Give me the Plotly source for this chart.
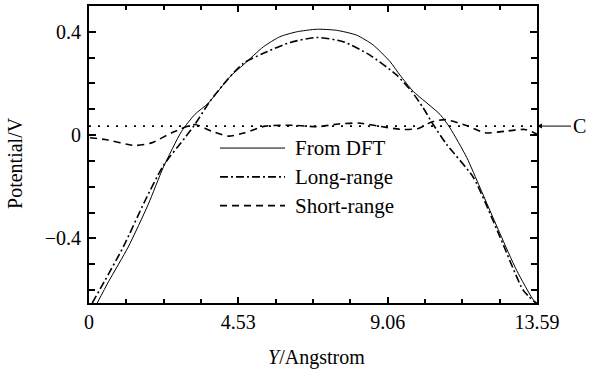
import plotly.graph_objects as go

# ---- data ----
dft_x = [0.25, 0.59, 1.19, 1.80, 2.25, 2.81, 3.21, 3.62, 4.28, 4.68, 5.29, 5.79, 6.30, 6.91,
         7.51, 8.12, 8.62, 9.13, 9.43, 9.84, 10.65, 10.95, 11.46, 11.86, 12.47, 12.97, 13.48, 13.59]
dft_y = [-0.65, -0.568, -0.433, -0.267, -0.126, 0.015, 0.08, 0.124, 0.227, 0.272, 0.342, 0.381, 0.40, 0.41,
         0.406, 0.387, 0.349, 0.285, 0.233, 0.169, 0.08, 0.028, -0.087, -0.203, -0.382, -0.523, -0.638, -0.65]

long_x = [0.1, 0.46, 1.04, 1.70, 2.25, 2.91, 3.21, 3.67, 4.20, 4.68, 5.29, 6.10, 6.91, 7.71, 8.52,
          9.33, 9.79, 10.14, 10.44, 10.85, 11.66, 12.47, 13.17, 13.55]
long_y = [-0.65, -0.568, -0.433, -0.254, -0.119, -0.01, 0.041, 0.131, 0.215, 0.278, 0.317, 0.359, 0.378, 0.362, 0.31,
          0.233, 0.169, 0.105, 0.041, -0.036, -0.164, -0.395, -0.6, -0.65]

short_x = [0.03, 0.49, 1.40, 1.90, 2.51, 3.21, 3.72, 4.23, 4.73, 5.34, 6.15, 6.96, 7.56, 8.17,
           8.78, 9.48, 9.99, 10.39, 10.80, 11.50, 12.01, 12.62, 13.22, 13.59]
short_y = [-0.01, -0.017, -0.04, -0.03, 0.009, 0.041, 0.015, -0.004, 0.009, 0.035, 0.038, 0.033, 0.043, 0.047,
           0.035, 0.022, 0.026, 0.051, 0.06, 0.035, 0.009, 0.015, 0.022, 0.004]

c_level = 0.035
x_range = [0, 13.59]
y_range = [-0.65, 0.5]

x_ticks = [0, 4.53, 9.06, 13.59]
x_ticktext = ["0", "4.53", "9.06", "13.59"]
y_ticks = [-0.4, 0, 0.4]
y_ticktext = ["\u22120.4", "0", "0.4"]

names = ["From DFT", "Long-range", "Short-range"]
dashes = ["solid", "8px,3px,2px,3px", "7px,5px"]
widths = [1, 1.6, 1.6]

FONT = "Liberation Serif, Times New Roman, serif"

fig = go.Figure()
series = [(dft_x, dft_y), (long_x, long_y), (short_x, short_y)]
for (xs, ys), nm, ds, w in zip(series, names, dashes, widths):
    fig.add_trace(go.Scatter(x=xs, y=ys, mode="lines", name=nm,
                             line=dict(color="black", width=w, dash=ds, shape="spline", smoothing=0.6),
                             showlegend=False))

fig.add_trace(go.Scatter(x=x_range, y=[c_level, c_level], mode="lines",
                         line=dict(color="black", width=1.6, dash="2px,7px"), showlegend=False))

# manual legend
rows = [0.5217, 0.4247, 0.3278]
for nm, ds, w, yy in zip(names, dashes, widths, rows):
    fig.add_shape(type="line", xref="paper", yref="paper", x0=0.2924, x1=0.4375, y0=yy, y1=yy,
                  line=dict(color="black", width=w, dash=ds))
    fig.add_annotation(xref="paper", yref="paper", x=0.4554, y=yy, text=nm, showarrow=False,
                       xanchor="left", yanchor="middle", font=dict(family=FONT, size=21, color="black"))

# C marker
fig.add_annotation(x=13.59, y=c_level, xref="x", yref="y", text="C", showarrow=True,
                   axref="pixel", ayref="pixel", ax=34, ay=0, xanchor="left",
                   arrowhead=2, arrowsize=1, arrowwidth=1, arrowcolor="black",
                   font=dict(family=FONT, size=20, color="black"))

# axis titles
fig.add_annotation(xref="paper", yref="paper", x=(316 - 89) / 448, y=(303 - 358) / 299,
                   text="<i>Y</i>/Angstrom", showarrow=False, xanchor="center", yanchor="middle",
                   font=dict(family=FONT, size=20, color="black"))
fig.add_annotation(xref="paper", yref="paper", x=(15 - 89) / 448, y=(303 - 162) / 299,
                   text="Potential/V", showarrow=False, textangle=-90, xanchor="center", yanchor="middle",
                   font=dict(family=FONT, size=20, color="black"))

axis_common = dict(showgrid=False, zeroline=False, showline=True, linecolor="black", linewidth=2,
                   mirror="allticks", ticks="inside", tickcolor="black", tickwidth=1.5,
                   tickfont=dict(family=FONT, size=20, color="black"))

fig.update_xaxes(range=x_range, tickvals=x_ticks, ticktext=x_ticktext, ticklen=6,
                 minor=dict(tick0=0, dtick=4.53 / 4, ticks="inside", ticklen=4, tickwidth=1.5, tickcolor="black"),
                 **axis_common)
fig.update_yaxes(range=y_range, tickvals=y_ticks, ticktext=y_ticktext, ticklen=7, ticklabelstandoff=2,
                 minor=dict(tick0=0, dtick=0.1, ticks="inside", ticklen=6, tickwidth=1.5, tickcolor="black"),
                 **axis_common)

fig.update_layout(width=592, height=373, margin=dict(l=89, r=55, t=4, b=70),
                  plot_bgcolor="white", paper_bgcolor="white", showlegend=False,
                  font=dict(family=FONT, color="black"))

fig.write_html("out.html")
